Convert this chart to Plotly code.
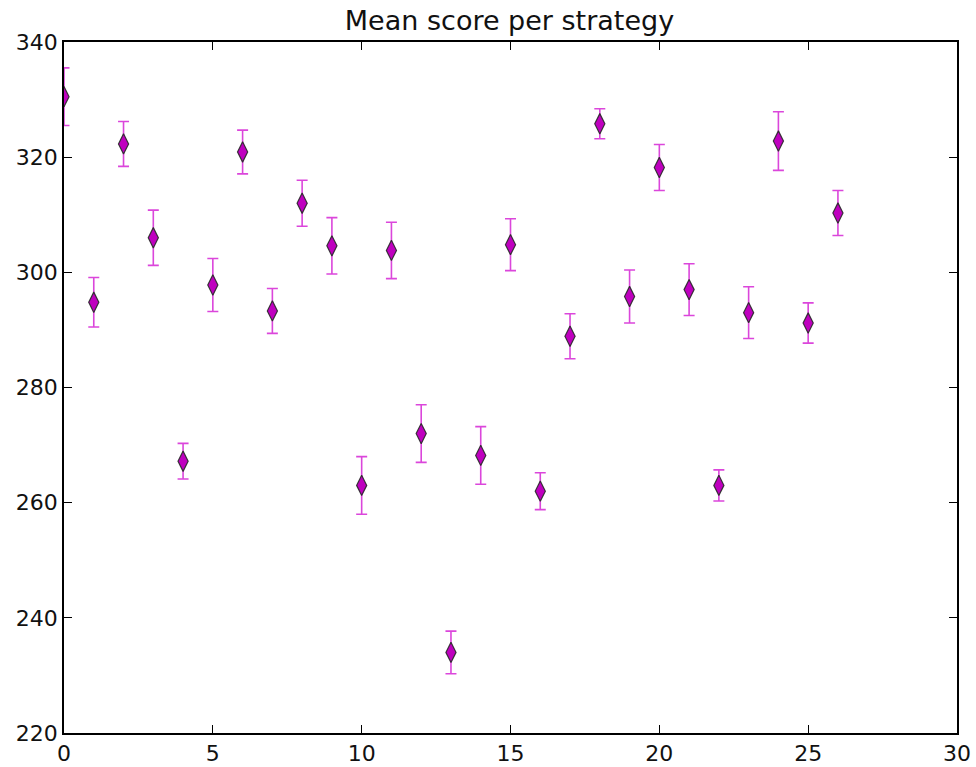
import plotly.graph_objects as go

strategy = list(range(27))
mean_score = [330.5, 294.8, 322.3, 306.0, 267.2, 297.8, 320.9, 293.3, 312.0, 304.6,
              263.0, 303.8, 272.0, 234.0, 268.2, 304.8, 262.0, 288.9, 325.8, 295.8,
              318.2, 297.0, 263.0, 293.0, 322.8, 291.2, 310.3]
err = [5.0, 4.3, 3.9, 4.8, 3.1, 4.6, 3.8, 3.9, 4.0, 4.9,
       5.0, 4.9, 5.0, 3.7, 5.0, 4.5, 3.2, 3.9, 2.6, 4.6,
       4.0, 4.5, 2.7, 4.5, 5.1, 3.5, 3.9]

fig = go.Figure()
fig.add_trace(go.Scatter(
    x=strategy, y=mean_score, mode="markers",
    marker=dict(symbol="diamond-tall", size=14.5, color="#bf00bf",
                line=dict(color="rgba(40,40,40,0.9)", width=1.2)),
    error_y=dict(type="data", array=err, visible=True,
                 color="rgba(215,50,215,0.9)", thickness=1.6, width=5.5),
    showlegend=False,
))

font = "DejaVu Sans, Arial, sans-serif"
axis_common = dict(showgrid=False, zeroline=False, showline=True, linecolor="black",
                   linewidth=1.5, mirror="allticks", ticks="inside", ticklen=8,
                   tickwidth=1, tickcolor="black", automargin=False,
                   tickfont=dict(family=font, size=22, color="#111"))
fig.update_xaxes(range=[0, 30], dtick=5, tick0=0, **axis_common)
fig.update_yaxes(range=[220, 340], dtick=20, tick0=220, **axis_common)

fig.update_layout(
    width=976, height=767,
    margin=dict(l=64, r=19, t=42, b=34),
    paper_bgcolor="white", plot_bgcolor="white",
    title=dict(text="Mean score per strategy", x=509.5 / 976, xanchor="center",
               y=1 - 20.5 / 767, yanchor="middle",
               font=dict(family=font, size=27, color="#111")),
)

fig.write_html("out.html", config={"displayModeBar": False},
               post_script="document.body.style.margin='0';document.body.style.overflow='hidden';")
